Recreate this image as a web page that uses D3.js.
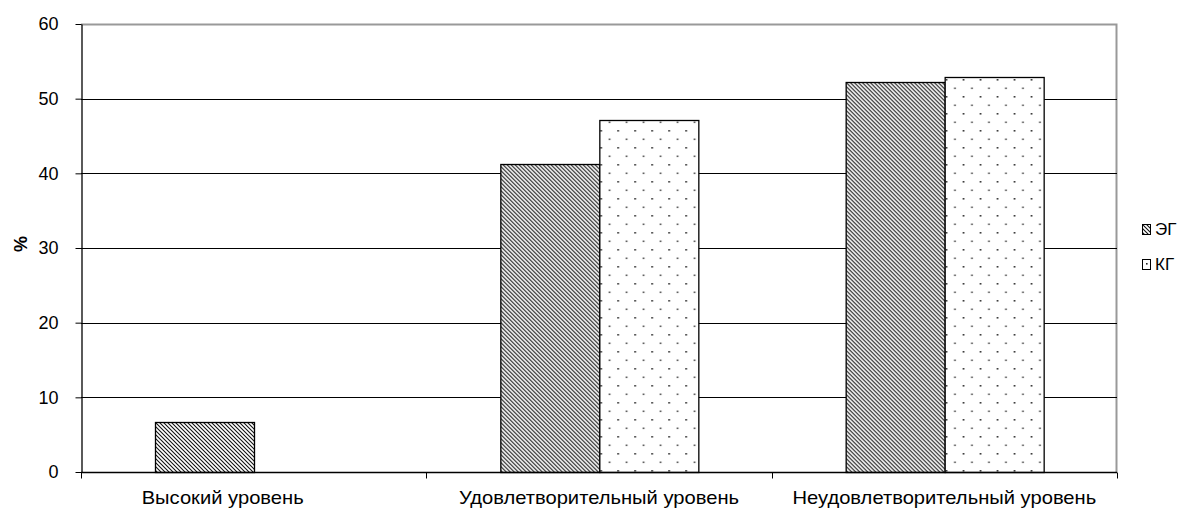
<!DOCTYPE html>
<html>
<head>
<meta charset="utf-8">
<script src="https://cdn.jsdelivr.net/npm/d3@7"></script>
<style>
  body { margin: 0; background: #fff; }
  svg { display: block; font-family: "Liberation Sans", Arial, sans-serif; }
</style>
</head>
<body>
<div id="chart"></div>
<script>
// --- data ---
const categories = ["Высокий уровень", "Удовлетворительный уровень", "Неудовлетворительный уровень"];
const seriesNames = ["ЭГ", "КГ"];
const egValues = [6.7, 41.3, 52.2];
const kgValues = [0, 47.1, 52.9];
const yTicks = [0, 10, 20, 30, 40, 50, 60];

const width = 1185;
const height = 511;
const margin = { top: 24, right: 68, bottom: 39, left: 81 };
const plotW = width - margin.left - margin.right;
const plotH = height - margin.top - margin.bottom;
const fontSize = 18;

const svg = d3.select("#chart").append("svg")
    .attr("width", width)
    .attr("height", height);

// patterns: diagonal hatch for ЭГ, sparse dots for КГ
const defs = svg.append("defs");
const hatch = defs.append("pattern")
    .attr("id", "hatch")
    .attr("patternUnits", "userSpaceOnUse")
    .attr("width", 4).attr("height", 4);
hatch.append("rect").attr("width", 4).attr("height", 4).attr("fill", "#fff");
hatch.append("path")
    .attr("d", "M-1,-1 L5,5 M-1,3 L1,5 M3,-1 L5,1")
    .attr("stroke", "#111")
    .attr("stroke-width", 1.1);

const dots = defs.append("pattern")
    .attr("id", "dots")
    .attr("patternUnits", "userSpaceOnUse")
    .attr("width", 17).attr("height", 17);
dots.append("rect").attr("width", 17).attr("height", 17).attr("fill", "#fff");
dots.append("rect").attr("x", 4).attr("y", 4).attr("width", 1.6).attr("height", 1.6).attr("fill", "#222");
dots.append("rect").attr("x", 12.5).attr("y", 12.5).attr("width", 1.6).attr("height", 1.6).attr("fill", "#444");

const fills = ["url(#hatch)", "url(#dots)"];

const g = svg.append("g")
    .attr("transform", `translate(${margin.left},${margin.top})`);

const x0 = d3.scaleBand()
    .domain(categories)
    .range([0, plotW])
    .paddingInner(0)
    .paddingOuter(0);

const x1 = d3.scaleBand()
    .domain(seriesNames)
    .range([0, x0.bandwidth()])
    .paddingInner(0)
    .paddingOuter(0.75);

const y = d3.scaleLinear()
    .domain([0, 60])
    .range([plotH, 0]);

// plot area border (grey, top and right)
g.append("path")
    .attr("d", `M0,0.5 H${plotW - 0.5} V${plotH}`)
    .attr("fill", "none")
    .attr("stroke", "#999")
    .attr("stroke-width", 2);

// gridlines
g.append("g")
    .selectAll("line")
    .data(yTicks.filter(t => t > 0 && t < 60))
    .join("line")
    .attr("x1", 0).attr("x2", plotW)
    .attr("y1", d => Math.round(y(d)) + 0.5)
    .attr("y2", d => Math.round(y(d)) + 0.5)
    .attr("stroke", "#000")
    .attr("stroke-width", 1);

// bars
const rows = categories.map((c, i) => ({ cat: c, vals: [egValues[i], kgValues[i]] }));
g.append("g")
    .selectAll("g")
    .data(rows)
    .join("g")
    .attr("transform", d => `translate(${x0(d.cat)},0)`)
    .selectAll("rect")
    .data(d => d.vals.map((v, j) => ({ name: seriesNames[j], v, j })).filter(d => d.v > 0))
    .join("rect")
    .attr("x", d => Math.round(x1(d.name)) + 0.5)
    .attr("y", d => Math.round(y(d.v)) + 0.5)
    .attr("width", Math.round(x1.bandwidth()))
    .attr("height", d => plotH - Math.round(y(d.v)))
    .attr("fill", d => fills[d.j])
    .attr("stroke", "#000")
    .attr("stroke-width", 1.3);

// y axis
const yAxis = g.append("g")
    .attr("transform", "translate(0.5,0)")
    .call(d3.axisLeft(y).tickValues(yTicks).tickSize(6).tickPadding(17).tickSizeOuter(0));
yAxis.select(".domain").attr("stroke", "#000").attr("stroke-width", 1.3);
yAxis.selectAll(".tick line").attr("stroke", "#000");
yAxis.selectAll("text")
    .attr("font-size", fontSize)
    .attr("font-family", "Liberation Sans, Arial, sans-serif")
    .attr("fill", "#000");

// x axis: line plus ticks at category boundaries
const xAxis = g.append("g").attr("transform", `translate(0,${plotH + 0.5})`);
xAxis.append("line")
    .attr("x1", 0).attr("x2", plotW)
    .attr("stroke", "#000").attr("stroke-width", 1.3);
const bounds = categories.map(c => x0(c)).concat([plotW]);
xAxis.selectAll("line.tk")
    .data(bounds)
    .join("line")
    .attr("class", "tk")
    .attr("x1", d => Math.round(d) + 0.5).attr("x2", d => Math.round(d) + 0.5)
    .attr("y1", 0).attr("y2", 6)
    .attr("stroke", "#000");
// the first label sits a little left of its category centre in the original
const labelShift = [-31, 0, 0];
xAxis.selectAll("text")
    .data(categories)
    .join("text")
    .attr("transform", (d, i) => `translate(${x0(d) + x0.bandwidth() / 2 + labelShift[i]},31) scale(1.12,1)`)
    .attr("text-anchor", "middle")
    .attr("font-size", fontSize)
    .attr("fill", "#000")
    .text(d => d);

// y axis title
svg.append("text")
    .attr("transform", `translate(27,244) rotate(-90)`)
    .attr("text-anchor", "middle")
    .attr("font-size", fontSize)
    .attr("font-weight", "bold")
    .text("%");

// legend
const legend = svg.append("g")
    .attr("transform", "translate(1142,224)");
const li = legend.selectAll("g")
    .data(seriesNames)
    .join("g")
    .attr("transform", (d, i) => `translate(0,${i * 35})`);
li.append("rect")
    .attr("x", 0.5).attr("y", 0.5)
    .attr("width", 8).attr("height", 10)
    .attr("fill", (d, i) => fills[i])
    .attr("stroke", "#000");
li.append("text")
    .attr("x", 13)
    .attr("y", 11)
    .attr("font-size", 17)
    .text(d => d);
</script>
</body>
</html>
